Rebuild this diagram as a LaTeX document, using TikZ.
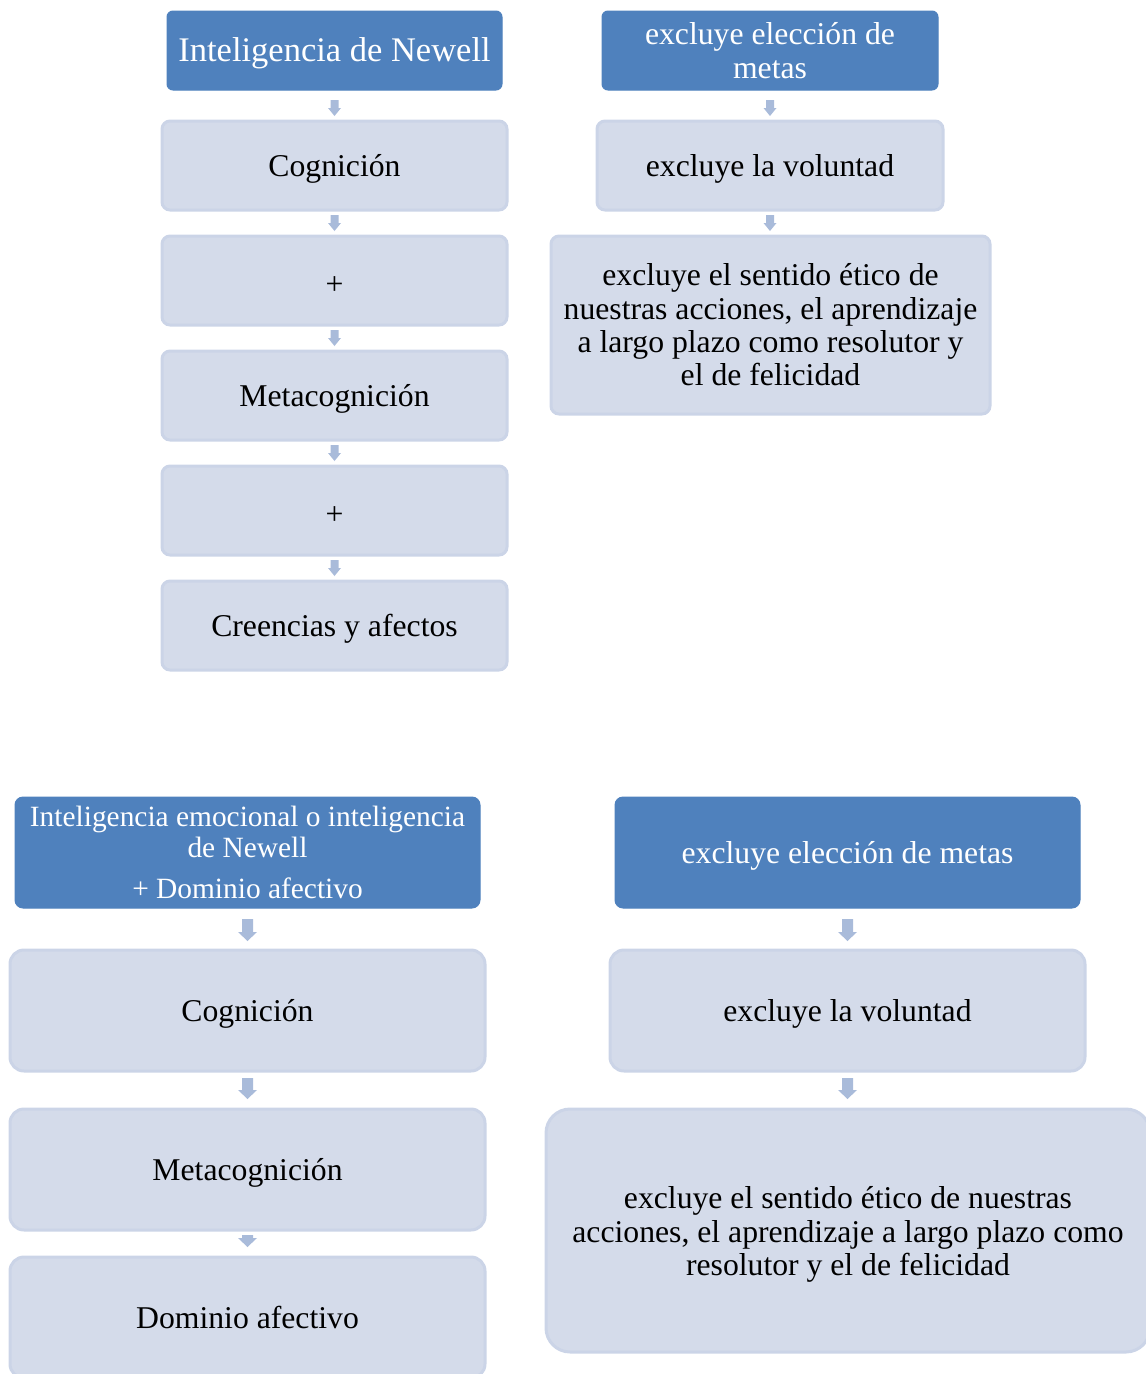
\documentclass[tikz,border=0pt]{standalone}
\usepackage{fontspec}
\setmainfont{Liberation Serif}
\usetikzlibrary{calc}
\definecolor{headblue}{HTML}{4F81BD}
\definecolor{lightfill}{HTML}{D4DBEA}
\definecolor{lightedge}{HTML}{CBD4E7}
\definecolor{arrowblue}{HTML}{A9BBDA}
\tikzset{
  x=1pt, y=-1pt,
  basebox/.style={rectangle, inner sep=0pt, align=center,
    font=\fontsize{31.7}{33.3}\selectfont},
  headbox/.style={basebox, fill=headblue, draw=headblue, line width=1pt,
    text=white, rounded corners=6pt},
  lightbox/.style={basebox, fill=lightfill, draw=lightedge, line width=3pt,
    text=black, rounded corners=8pt},
  oneline/.style={text height=21pt, text depth=0pt},
  plusline/.style={text height=27pt, text depth=0pt},
  bigcorner/.style={rounded corners=14pt},
}
% block arrow between two stacked nodes:
% #1 source, #2 target, #3 gap below source, #4 shaft width,
% #5 gap above target, #6 head width, #7 head length
\newcommand\flowarrow[7]{%
  \fill[arrowblue] let \p1=(#1.south), \p2=(#2.north) in
    (\x1-#4/2,\y1-#3) -- (\x1+#4/2,\y1-#3) -- (\x1+#4/2,\y2+#5+#7)
    -- (\x1+#6/2,\y2+#5+#7) -- (\x1,\y2+#5) -- (\x1-#6/2,\y2+#5+#7)
    -- (\x1-#4/2,\y2+#5+#7) -- cycle;}
\begin{document}
\begin{tikzpicture}
\useasboundingbox (0,0) rectangle (1146,1374);
\clip (0,0) rectangle (1146,1374);

% upper left column
\node[headbox, minimum width=335pt, minimum height=79pt, text height=22.8pt, text depth=0pt,
  font=\fontsize{34.5}{36}\selectfont] (tl0) at (334.5,50.5) {Inteligencia de Newell};
\node[lightbox, oneline, minimum width=345pt, minimum height=89pt] (tl1) at (334.5,165.5) {Cognición};
\node[lightbox, plusline, minimum width=345pt, minimum height=89pt] (tl2) at (334.5,280.5) {+};
\node[lightbox, oneline, minimum width=345pt, minimum height=89pt] (tl3) at (334.5,395.5) {Metacognición};
\node[lightbox, plusline, minimum width=345pt, minimum height=89pt] (tl4) at (334.5,510.5) {+};
\node[lightbox, oneline, minimum width=345pt, minimum height=89pt] (tl5) at (334.5,625.5) {Creencias y afectos};
\flowarrow{tl0}{tl1}{9.5pt}{8pt}{3.5pt}{13pt}{8pt}
\flowarrow{tl1}{tl2}{3.5pt}{8pt}{3.5pt}{13pt}{8pt}
\flowarrow{tl2}{tl3}{3.5pt}{8pt}{3.5pt}{13pt}{8pt}
\flowarrow{tl3}{tl4}{3.5pt}{8pt}{3.5pt}{13pt}{8pt}
\flowarrow{tl4}{tl5}{3.5pt}{8pt}{3.5pt}{13pt}{8pt}

% upper right column
\node[headbox, minimum width=336pt, minimum height=79pt] (tr0) at (770,50.5)
  {excluye elección de\\metas};
\node[lightbox, oneline, minimum width=346pt, minimum height=89pt] (tr1) at (770,165.5) {excluye la voluntad};
\node[lightbox, minimum width=439pt, minimum height=178pt] (tr2) at (770.5,325)
  {excluye el sentido ético de\\nuestras acciones, el aprendizaje\\a largo plazo como resolutor y\\el de felicidad};
\flowarrow{tr0}{tr1}{9.5pt}{8pt}{3.5pt}{13pt}{8pt}
\flowarrow{tr1}{tr2}{3.5pt}{8pt}{3.5pt}{13pt}{8pt}

% lower left column
\node[headbox, minimum width=465pt, minimum height=111pt, rounded corners=8pt,
  font=\fontsize{29.4}{31}\selectfont] (bl0) at (247.5,852.5)
  {Inteligencia emocional o inteligencia\\de Newell\\[10pt]+ Dominio afectivo};
\node[lightbox, oneline, bigcorner, minimum width=475pt, minimum height=121pt] (bl1) at (247.5,1010.5) {Cognición};
\node[lightbox, oneline, bigcorner, minimum width=475pt, minimum height=121pt] (bl2) at (247.5,1169.5) {Metacognición};
\node[lightbox, oneline, bigcorner, minimum width=475pt, minimum height=121pt] (bl3) at (247.5,1317.5) {Dominio afectivo};
\flowarrow{bl0}{bl1}{10.5pt}{11pt}{7.5pt}{19pt}{9pt}
\flowarrow{bl1}{bl2}{5.5pt}{11pt}{8.5pt}{19pt}{9pt}
\flowarrow{bl2}{bl3}{3.5pt}{11pt}{8.5pt}{19pt}{9pt}

% lower right column
\node[headbox, oneline, minimum width=465pt, minimum height=111pt, rounded corners=8pt] (br0) at (847.5,852.5)
  {excluye elección de metas};
\node[lightbox, oneline, bigcorner, minimum width=475pt, minimum height=121pt] (br1) at (847.5,1010.5) {excluye la voluntad};
\node[lightbox, rounded corners=24pt, minimum width=604pt, minimum height=243pt] (br2) at (848,1230.5)
  {\rule{0pt}{30pt}excluye el sentido ético de nuestras\\acciones, el aprendizaje a largo plazo como\\resolutor y el de felicidad};
\flowarrow{br0}{br1}{10.5pt}{11pt}{7.5pt}{19pt}{9pt}
\flowarrow{br1}{br2}{5.5pt}{11pt}{8.5pt}{19pt}{9pt}
\end{tikzpicture}
\end{document}
